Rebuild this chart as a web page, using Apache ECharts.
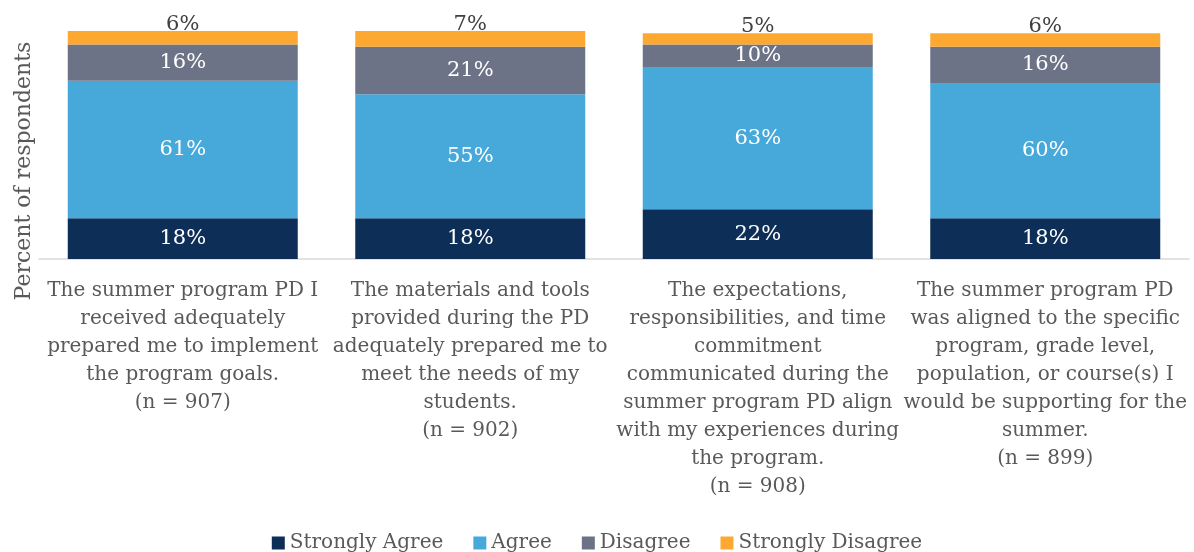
<!DOCTYPE html>
<html>
<head>
<meta charset="utf-8">
<script src="https://cdn.jsdelivr.net/npm/echarts@6/dist/echarts.min.js"></script>
<style>
html,body{margin:0;padding:0;background:#fff;}
#chart{width:1194px;height:552px;}
</style>
</head>
<body>
<div id="chart"></div>
<script>
const categories = [
  "The summer program PD I\nreceived adequately\nprepared me to implement\nthe program goals.\n(n = 907)",
  "The materials and tools\nprovided during the PD\nadequately prepared me to\nmeet the needs of my\nstudents.\n(n = 902)",
  "The expectations,\nresponsibilities, and time\ncommitment\ncommunicated during the\nsummer program PD align\nwith my experiences during\nthe program.\n(n = 908)",
  "The summer program PD\nwas aligned to the specific\nprogram, grade level,\npopulation, or course(s) I\nwould be supporting for the\nsummer.\n(n = 899)"
];
const seriesNames = ["Strongly Agree", "Agree", "Disagree", "Strongly Disagree"];
const stronglyAgree = [18, 18, 22, 18];
const agree = [61, 55, 63, 60];
const disagree = [16, 21, 10, 16];
const stronglyDisagree = [6, 7, 5, 6];
const yAxisTitle = "Percent of respondents";

const colors = ["#0D2F57", "#47A9DA", "#6D7386", "#FCA831"];
const FONT = "DejaVu Serif";
const values = [stronglyAgree, agree, disagree, stronglyDisagree];

const chart = echarts.init(document.getElementById('chart'));
const series = values.map((arr, i) => ({
  name: seriesNames[i],
  type: 'bar',
  stack: 'total',
  barCategoryGap: '20%',
  data: arr,
  itemStyle: { color: colors[i] },
  label: {
    show: true,
    position: i === 3 ? 'top' : 'inside',
    distance: 0,
    offset: i === 3 ? [0, 4] : [0, 0],
    formatter: p => p.value + '%',
    color: i === 3 ? '#404040' : '#ffffff',
    fontFamily: FONT,
    fontSize: 21
  }
}));

chart.setOption({
  animation: false,
  color: colors,
  grid: { left: 39, right: 5, top: 31, height: 228, containLabel: false },
  xAxis: {
    type: 'category',
    data: categories,
    axisLine: { show: true, lineStyle: { color: '#D9D9D9', width: 1.5 } },
    axisTick: { show: false },
    axisLabel: {
      interval: 0,
      margin: 18,
      color: '#595959',
      fontFamily: FONT,
      fontSize: 20,
      lineHeight: 28
    }
  },
  yAxis: {
    type: 'value',
    min: 0,
    max: 101,
    show: false
  },
  legend: {
    top: 528,
    left: 'center',
    itemWidth: 13,
    itemHeight: 13,
    itemGap: 30,
    icon: 'rect',
    textStyle: { color: '#595959', fontFamily: FONT, fontSize: 20 },
    data: seriesNames
  },
  graphic: [{
    type: 'text',
    x: 24,
    y: 171,
    rotation: Math.PI / 2,
    style: {
      text: yAxisTitle,
      fill: '#595959',
      font: '22px "' + FONT + '"',
      align: 'center',
      verticalAlign: 'middle'
    }
  }],
  series: series
});
</script>
</body>
</html>
